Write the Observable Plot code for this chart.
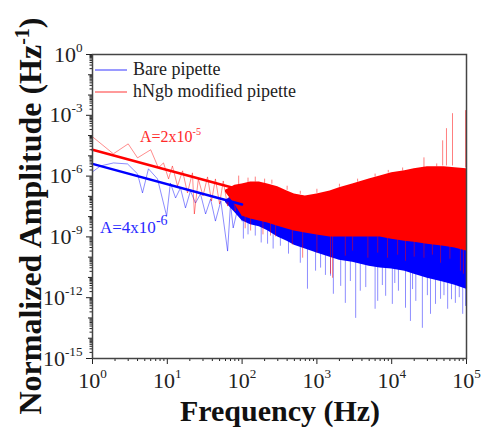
<!DOCTYPE html>
<html><head><meta charset="utf-8">
<script src="https://cdn.jsdelivr.net/npm/d3@7"></script>
<script src="https://cdn.jsdelivr.net/npm/@observablehq/plot@0.6"></script>
<style>html,body{margin:0;padding:0;background:#fff}</style>
</head><body><div id="chart"></div>
<script>
// ---- axis ticks and labels ----
const xTicks = [1, 10, 100, 1000, 10000, 100000];
const xTickExp = ["0", "1", "2", "3", "4", "5"];
const yTicks = [1, 1e-3, 1e-6, 1e-9, 1e-12, 1e-15];
const yTickExp = ["0", "-3", "-6", "-9", "-12", "-15"];
const xDecades = [1, 10, 100, 1000, 10000];
const yDecades = [1e-1, 1e-2, 1e-4, 1e-5, 1e-7, 1e-8, 1e-10, 1e-11, 1e-13, 1e-14];
const minorMult = [2, 3, 4, 5, 6, 7, 8, 9];

const seriesNames = ["Bare pipette", "hNgb modified pipette"];

// ---- dense band (60 Hz .. 100 kHz), log10 amplitude ----
const bandFreq   = [60, 80, 100, 130, 170, 220, 300, 400, 500, 700, 1000, 1500, 2000, 3000, 5000, 7000, 10000, 15000, 20000, 30000, 50000, 70000, 100000];
const redTop     = [-6.70, -6.45, -6.39, -6.29, -6.29, -6.39, -6.53, -6.73, -6.88, -6.98, -6.88, -6.73, -6.58, -6.39, -6.14, -5.99, -5.84, -5.74, -5.64, -5.54, -5.54, -5.59, -5.64];
const redBottom  = [-6.80, -7.40, -7.97, -8.12, -8.22, -8.32, -8.47, -8.61, -8.71, -8.81, -8.91, -9.01, -9.01, -9.01, -9.01, -9.01, -9.11, -9.21, -9.26, -9.36, -9.46, -9.55, -9.70];
const blueTop    = [-7.20, -6.90, -6.49, -6.63, -6.83, -7.03, -7.23, -7.43, -7.58, -7.72, -7.87, -8.02, -8.12, -8.22, -8.32, -8.37, -8.42, -8.47, -8.52, -8.62, -8.72, -8.82, -8.92];
const blueBottom = [-7.30, -7.80, -8.20, -8.40, -8.50, -8.70, -9.00, -9.21, -9.41, -9.60, -9.80, -10.00, -10.15, -10.25, -10.45, -10.54, -10.59, -10.69, -10.84, -11.04, -11.24, -11.39, -11.58];

// ---- sparse low-frequency traces (1..100 Hz) ----
const redThinFreq = [1, 1.9, 3.0, 4.0, 6.0, 7.6, 8.9, 10.4, 11.7, 13.7, 16, 18.6, 21.7, 23, 26, 30, 34.5, 39, 44, 50, 56, 64, 72, 81, 92, 100];
const redThinLog  = [-4.06, -4.90, -4.41, -5.10, -4.70, -5.59, -5.35, -6.14, -5.50, -6.49, -5.74, -6.83, -5.84, -7.87, -6.14, -6.98, -6.04, -7.23, -6.14, -7.38, -6.24, -7.48, -6.49, -7.72, -6.63, -7.97];
const blueThinFreq = [1, 1.28, 1.91, 2.94, 4.0, 4.66, 5.6, 7.4, 9.8, 11.0, 12.9, 15.0, 17.5, 20.4, 23.8, 27.8, 32.5, 37.9, 44, 52, 64, 70, 76, 89, 100];
const blueThinLog  = [-5.79, -5.50, -5.35, -5.40, -5.89, -6.83, -5.64, -6.14, -7.97, -6.34, -7.08, -6.58, -7.57, -6.73, -7.33, -6.88, -7.87, -7.13, -8.22, -7.23, -9.70, -7.38, -8.56, -7.48, -8.22];

// ---- spikes [frequency, from log10, to log10] ----
const blueSpikes = [
  [104, -7.5, -9.11], [120, -7.8, -8.9], [150, -8.0, -8.96], [180, -8.2, -9.3], [219, -8.3, -9.36], [260, -8.5, -9.6],
  [325, -8.8, -9.46], [417, -9.0, -9.85],
  [600, -9.3, -10.3], [748, -9.4, -11.58], [960, -9.6, -10.69], [1120, -9.7, -10.54], [1300, -9.8, -10.9],
  [1520, -9.9, -10.94], [1660, -9.9, -11.83], [2080, -10.0, -11.44], [2400, -10.1, -12.28], [2800, -10.2, -11.2],
  [3300, -10.2, -13.02], [3800, -10.3, -11.68], [4500, -10.4, -11.5], [6000, -10.4, -12.57], [6500, -10.4, -12.18],
  [7500, -10.5, -11.4], [8300, -10.5, -11.93], [10200, -10.5, -12.33], [11000, -10.6, -11.3], [12300, -10.6, -11.68],
  [15300, -10.6, -12.52], [17800, -10.7, -13.17], [19000, -10.7, -11.6], [21000, -10.7, -12.18], [25700, -10.8, -13.51],
  [30000, -10.9, -11.9], [33000, -10.9, -12.82], [38500, -11.0, -12.33], [45000, -11.1, -12.08], [50000, -11.1, -11.9],
  [56000, -11.2, -12.57], [63000, -11.2, -12.1], [71000, -11.3, -12.28], [80000, -11.3, -12.0], [89000, -11.4, -12.82],
  [97000, -11.5, -12.43]
];
const redSpikes = [
  [110, -7.5, -8.6], [130, -7.9, -8.71], [190, -8.0, -8.9], [240, -8.2, -8.96], [280, -8.3, -9.0],
  [470, -8.6, -9.4], [645, -8.7, -10.05], [1000, -8.9, -9.8],
  [1520, -8.9, -10.84], [1620, -8.9, -11.04], [2400, -9.0, -9.95], [3000, -9.0, -9.7], [4800, -9.0, -10.05],
  [6500, -9.0, -9.8], [8800, -9.0, -10.05], [12000, -9.1, -9.9], [15300, -9.1, -10.2], [20000, -9.1, -10.0],
  [27000, -9.2, -10.05], [35000, -9.2, -9.9], [45000, -9.3, -10.3], [60000, -9.3, -10.1], [83000, -9.4, -10.69],
  [91000, -9.4, -10.84],
  [27000, -5.6, -5.10], [48000, -5.5, -4.26], [54000, -5.5, -3.66], [65000, -5.5, -2.92], [97000, -5.6, -2.77],
  [90, -6.6, -6.0], [120, -6.4, -6.1], [150, -6.3, -6.05], [200, -6.4, -6.15], [250, -6.4, -6.2], [400, -6.7, -6.5],
  [600, -6.9, -6.75], [1000, -6.85, -6.65], [2000, -6.55, -6.4], [3500, -6.3, -6.15], [6000, -6.05, -5.9],
  [9000, -5.85, -5.72], [14000, -5.75, -5.6], [40000, -5.55, -5.4]
];

// ---- 1/f fits ----
const fitFreq = [1, 100];
const redFit = [2e-5, 2e-7];
const blueFit = [4e-6, 4e-8];

const RED = "#ff0000", BLUE = "#0000ff";

const band = bandFreq.map((f, i) => ({f, rt: 10 ** redTop[i], rb: 10 ** redBottom[i], bt: 10 ** blueTop[i], bb: 10 ** blueBottom[i]}));
const redThin = redThinFreq.map((f, i) => ({f, v: 10 ** redThinLog[i]}));
const blueThin = blueThinFreq.map((f, i) => ({f, v: 10 ** blueThinLog[i]}));
const toSpike = s => ({f: s[0], a: 10 ** s[1], b: 10 ** s[2]});
const bSp = blueSpikes.map(toSpike), rSp = redSpikes.map(toSpike);
const rFit = fitFreq.map((f, i) => ({f, v: redFit[i]}));
const bFit = fitFreq.map((f, i) => ({f, v: blueFit[i]}));

const xMinor = xDecades.flatMap(d => minorMult.map(m => d * m));
const yMinor = [...yTicks, ...yDecades].filter(d => d > 1e-15).flatMap(d => minorMult.map(m => d * m / 10));

const fontFam = "Liberation Serif, Times New Roman, serif";

const chart = Plot.plot({
  width: 482, height: 428,
  marginLeft: 92, marginRight: 16, marginTop: 54, marginBottom: 70,
  x: {type: "log", domain: [1, 1e5], label: null},
  y: {type: "log", domain: [1e-15, 1], label: null},
  style: {fontFamily: fontFam, background: "#fff", color: "#222"},
  marks: [
    Plot.areaY(band, {x: "f", y1: "bb", y2: "bt", fill: BLUE}),
    Plot.ruleX(bSp, {x: "f", y1: "a", y2: "b", stroke: BLUE, strokeOpacity: 0.45, strokeWidth: 1}),
    Plot.line(blueThin, {x: "f", y: "v", stroke: BLUE, strokeOpacity: 0.45, strokeWidth: 1}),
    Plot.line(redThin, {x: "f", y: "v", stroke: RED, strokeOpacity: 0.45, strokeWidth: 1}),
    Plot.areaY(band, {x: "f", y1: "rb", y2: "rt", fill: RED}),
    Plot.ruleX(rSp, {x: "f", y1: "a", y2: "b", stroke: RED, strokeOpacity: 0.5, strokeWidth: 1}),
    Plot.line(rFit, {x: "f", y: "v", stroke: RED, strokeWidth: 2.5}),
    Plot.line(bFit, {x: "f", y: "v", stroke: BLUE, strokeWidth: 2.5}),
    Plot.axisX({ticks: xMinor, tickSize: 3, tickFormat: () => ""}),
    Plot.axisX({ticks: xTicks, tickSize: 6, tickPadding: 8, fontSize: 22, tickFormat: d => xTickExp[xTicks.indexOf(d)]}),
    Plot.axisY({ticks: yMinor, tickSize: 2.5, tickFormat: () => ""}),
    Plot.axisY({ticks: yDecades, tickSize: 4, tickFormat: () => ""}),
    Plot.axisY({ticks: yTicks, tickSize: 6, tickPadding: 4, fontSize: 22, tickFormat: d => yTickExp[yTicks.indexOf(d)]}),
    Plot.frame({stroke: "#444", strokeWidth: 1.5})
  ]
});

document.getElementById("chart").appendChild(chart);
const svg = d3.select(chart);

// superscript tick labels: 10^k
svg.selectAll('[aria-label="x-axis tick label"] text, [aria-label="y-axis tick label"] text').each(function () {
  const t = this.textContent;
  if (!t) return;
  this.textContent = "10";
  d3.select(this).append("tspan").attr("dy", "-0.75em").attr("font-size", "0.6em").text(t);
  d3.select(this).attr("fill", "#222");
});

// legend
const leg = [[seriesNames[0], "#9a9aff", 70, 75], [seriesNames[1], "#ff9a9a", 92, 97]];
leg.forEach(([name, col, ly, ty]) => {
  svg.append("line").attr("x1", 95).attr("x2", 127).attr("y1", ly).attr("y2", ly)
    .attr("stroke", col).attr("stroke-width", 2);
  svg.append("text").attr("x", 133).attr("y", ty).attr("text-anchor", "start").attr("font-family", fontFam)
    .attr("font-size", 18).attr("fill", "#222").text(name);
});

// annotations
const aRed = svg.append("text").attr("x", 140).attr("y", 142).attr("text-anchor", "start").attr("font-family", fontFam)
  .attr("font-size", 16).attr("fill", "#ff2a2a");
aRed.append("tspan").text("A=2x10");
aRed.append("tspan").attr("dy", -7).attr("font-size", 10).text("-5");
const aBlue = svg.append("text").attr("x", 100).attr("y", 233).attr("text-anchor", "start").attr("font-family", fontFam)
  .attr("font-size", 17).attr("fill", "#2a2aff");
aBlue.append("tspan").text("A=4x10");
aBlue.append("tspan").attr("dy", -8).attr("font-size", 14).text("-6");

// axis titles
svg.append("text").attr("x", 280).attr("y", 421).attr("text-anchor", "middle")
  .attr("font-family", fontFam).attr("font-weight", "bold").attr("font-size", 30).attr("fill", "#111")
  .text("Frequency (Hz)");
const yt = svg.append("text").attr("transform", "translate(41,216) rotate(-90)").attr("text-anchor", "middle")
  .attr("font-family", fontFam).attr("font-weight", "bold").attr("font-size", 32).attr("fill", "#111");
yt.append("tspan").text("Normalized Amplitude (Hz");
yt.append("tspan").attr("dy", -12).attr("font-size", 20).text("-1");
yt.append("tspan").attr("dy", 12).text(")");
</script>
</body></html>
